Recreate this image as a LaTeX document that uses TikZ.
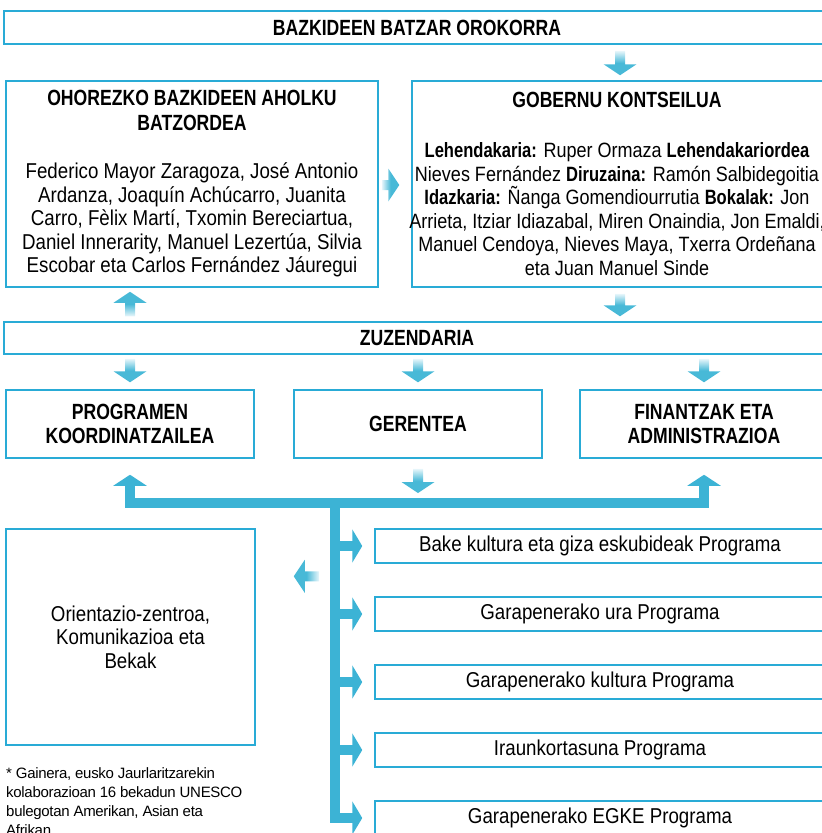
\documentclass[tikz,border=0pt]{standalone}
\usepackage{fontspec}
\setmainfont{Liberation Sans}[FakeStretch=0.87]
\newfontfamily\hdfamily{Liberation Sans}[FakeStretch=0.80]
\newfontfamily\notefont{Liberation Sans}[LetterSpace=-2]
\usepackage{tikz}
\usetikzlibrary{arrows.meta}
\usetikzlibrary{calc}

\definecolor{boxblue}{RGB}{41,171,214}
\definecolor{arrowblue}{RGB}{72,185,215}
\definecolor{arrowpale}{RGB}{232,246,251}
\definecolor{busblue}{RGB}{60,179,213}

\newcommand{\headfont}{\fontsize{22}{23.5}\hdfamily\bfseries\selectfont}
\newcommand{\bd}[1]{{\hdfamily\bfseries #1}}

\tikzset{
    orgbox/.style={draw=boxblue, line width=1.5pt, inner sep=0pt, align=center,
        font=\fontsize{21.5}{23.5}\selectfont},
    varrow/.style={to path={let \p1=(\tikztostart), \p2=(\tikztotarget),
        \n1={sign(\y2-\y1)*11} in
        ({\x1-5pt},\y1) -- ({\x1+5pt},\y1) -- ({\x1+5pt},{\y2-(\n1)*1pt})
        -- ({\x1+16.5pt},{\y2-(\n1)*1pt}) -- (\x1,\y2)
        -- ({\x1-16.5pt},{\y2-(\n1)*1pt}) -- ({\x1-5pt},{\y2-(\n1)*1pt}) -- cycle}},
    harrow/.style={to path={let \p1=(\tikztostart), \p2=(\tikztotarget),
        \n1={sign(\x2-\x1)*11} in
        (\x1,{\y1-5pt}) -- (\x1,{\y1+5pt}) -- ({\x2-(\n1)*1pt},{\y1+5pt})
        -- ({\x2-(\n1)*1pt},{\y1+16.5pt}) -- (\x2,\y1)
        -- ({\x2-(\n1)*1pt},{\y1-16.5pt}) -- ({\x2-(\n1)*1pt},{\y1-5pt}) -- cycle}},
    fadedown/.style={varrow, top color=arrowpale, bottom color=arrowblue, middle color=arrowblue},
    fadeup/.style={varrow, top color=arrowblue, bottom color=arrowpale, middle color=arrowblue},
    faderight/.style={harrow, left color=arrowpale, right color=arrowblue, middle color=arrowblue},
    fadeleft/.style={harrow, left color=arrowblue, right color=arrowpale, middle color=arrowblue},
    busline/.style={draw=busblue, line width=10pt, line join=miter}
}

\begin{document}
\begin{tikzpicture}[x=1pt, y=-1pt]
    \useasboundingbox (0,0) rectangle (822,833);
    \node[orgbox, minimum width=826pt, minimum height=33pt] (batzar) at (417,27.5) {\headfont BAZKIDEEN BATZAR OROKORRA};
    \node[orgbox, minimum width=372pt, minimum height=206pt] (ohore) at (192,184)
        {{\headfont OHOREZKO BAZKIDEEN AHOLKU}\\[1.5pt]
        {\headfont BATZORDEA}\\[24.5pt]
        Federico Mayor Zaragoza, José Antonio\\
        Ardanza, Joaquín Achúcarro, Juanita\\
        Carro, Fèlix Martí, Txomin Bereciartua,\\
        Daniel Innerarity, Manuel Lezertúa, Silvia\\
        Escobar eta Carlos Fernández Jáuregui};
    \node[orgbox, minimum width=416pt, minimum height=206pt] (gobernu) at (620,184) {};
    \node[align=center, inner sep=0pt, font=\fontsize{20.7}{23.5}\selectfont] (gobtext) at (617,184)
        {{\headfont GOBERNU KONTSEILUA}\\[26.5pt]
        \bd{Lehendakaria:} Ruper Ormaza \bd{Lehendakariordea}\\
        Nieves Fernández \bd{Diruzaina:} Ramón Salbidegoitia\\
        \bd{Idazkaria:} Ñanga Gomendiourrutia \bd{Bokalak:} Jon\\
        Arrieta, Itziar Idiazabal, Miren Onaindia, Jon Emaldi,\\
        Manuel Cendoya, Nieves Maya, Txerra Ordeñana\\
        eta Juan Manuel Sinde};
    \node[orgbox, minimum width=826pt, minimum height=32pt] (zuzen) at (417,338) {\headfont ZUZENDARIA};
    \node[orgbox, minimum width=248pt, minimum height=68pt] (prog) at (130,424) {\headfont PROGRAMEN\\ \headfont KOORDINATZAILEA};
    \node[orgbox, minimum width=248pt, minimum height=68pt] (geren) at (418,424) {\headfont GERENTEA};
    \node[orgbox, minimum width=248pt, minimum height=68pt] (finan) at (704,424) {\headfont FINANTZAK ETA\\ \headfont ADMINISTRAZIOA};
    \node[orgbox, minimum width=249pt, minimum height=216pt] (oriental) at (130.5,637)
        {Orientazio-zentroa,\\ Komunikazioa eta\\ Bekak};
    \node[orgbox, minimum width=450pt, minimum height=34pt] (pgma) at (600,546) {Bake kultura eta giza eskubideak Programa};
    \node[orgbox, minimum width=450pt, minimum height=34pt] (pgmb) at (600,614) {Garapenerako ura Programa};
    \node[orgbox, minimum width=450pt, minimum height=34pt] (pgmc) at (600,682) {Garapenerako kultura Programa};
    \node[orgbox, minimum width=450pt, minimum height=34pt] (pgmd) at (600,750) {Iraunkortasuna Programa};
    \node[orgbox, minimum width=450pt, minimum height=34pt] (pgme) at (600,818) {Garapenerako EGKE Programa};
    \node[anchor=north west, inner sep=0pt, align=left, font=\notefont\fontsize{15}{19}\selectfont] (note) at (6,767)
        {* Gainera, eusko Jaurlaritzarekin\\ kolaborazioan 16 bekadun UNESCO\\ bulegotan Amerikan, Asian eta\\ Afrikan};

    \shade[fadedown] ($(batzar.south -| gobernu.north)+(0,6)$) to ($(gobernu.north)+(0,-5)$);
    \shade[faderight] ($(ohore.east)+(3,1)$) to ($(gobernu.west)+(-12,1)$);
    \shade[fadeup] ($(zuzen.north -| prog.north)+(0,-5)$) to ($(ohore.south -| prog.north)+(0,4)$);
    \shade[fadedown] ($(gobernu.south)+(0,6)$) to ($(zuzen.north -| gobernu.south)+(0,-5)$);
    \shade[fadedown] ($(zuzen.south -| prog.north)+(0,4)$) to ($(prog.north)+(0,-7)$);
    \shade[fadedown] ($(zuzen.south -| geren.north)+(0,4)$) to ($(geren.north)+(0,-7)$);
    \shade[fadedown] ($(zuzen.south -| finan.north)+(0,4)$) to ($(finan.north)+(0,-7)$);

    \coordinate (hub) at (335,503);
    \shade[fadedown] ($(geren.south)+(0,10)$) to ($(geren.south |- hub)+(0,-10)$);
    \draw[busline, {Triangle[width=33pt,length=11pt]}-{Triangle[width=33pt,length=11pt]}]
        ($(prog.south)+(0,16)$) |- (hub) -| ($(finan.south)+(0,16)$);
    \draw[busline, -{Triangle[width=33pt,length=10pt]}] (hub) |- ($(pgme.west)+(-12,0)$);
    \draw[busline, -{Triangle[width=33pt,length=10pt]}] (hub |- pgma.west) -- ($(pgma.west)+(-12,0)$);
    \draw[busline, -{Triangle[width=33pt,length=10pt]}] (hub |- pgmb.west) -- ($(pgmb.west)+(-12,0)$);
    \draw[busline, -{Triangle[width=33pt,length=10pt]}] (hub |- pgmc.west) -- ($(pgmc.west)+(-12,0)$);
    \draw[busline, -{Triangle[width=33pt,length=10pt]}] (hub |- pgmd.west) -- ($(pgmd.west)+(-12,0)$);
    \shade[fadeleft] ($(hub |- oriental.north)+(-16,48)$) to ($(oriental.north east)+(38,48)$);
  \end{tikzpicture}
\end{document}
